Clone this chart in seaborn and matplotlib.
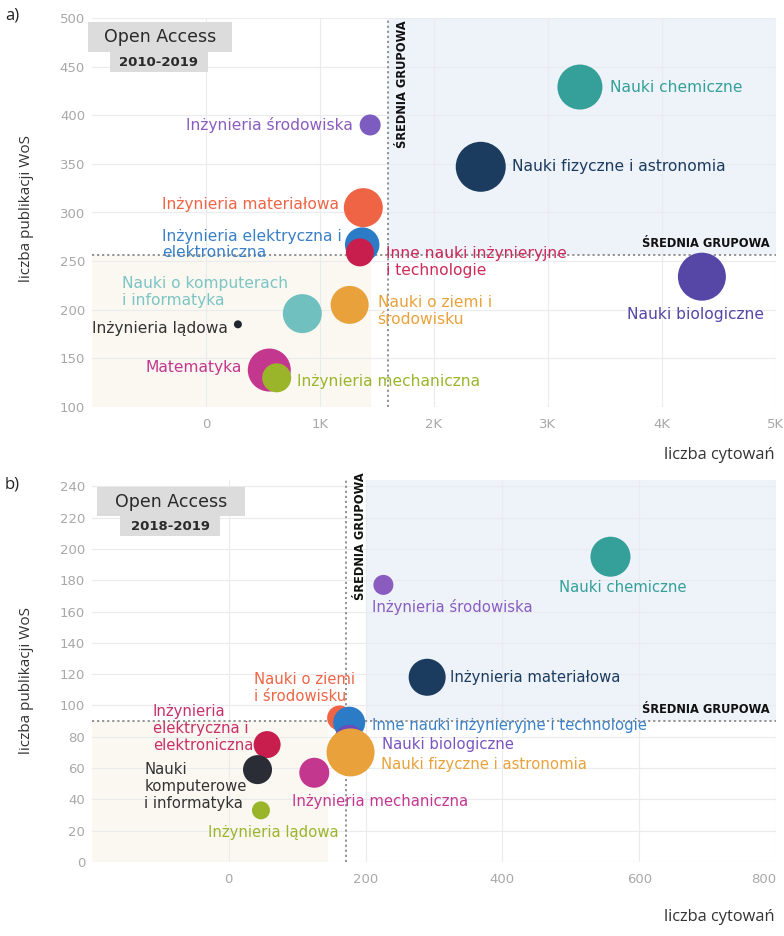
import pandas as pd
import matplotlib
matplotlib.use("Agg")
import matplotlib.pyplot as plt
from matplotlib.patches import Rectangle
from matplotlib.ticker import FuncFormatter
import seaborn as sns

# a) Open Access 2010-2019
dziedziny_a = [
    "Inżynieria środowiska",
    "Nauki chemiczne",
    "Nauki fizyczne i astronomia",
    "Inżynieria materiałowa",
    "Inżynieria elektryczna i elektroniczna",
    "Inne nauki inżynieryjne i technologie",
    "Nauki o komputerach i informatyka",
    "Nauki o ziemi i środowisku",
    "Inżynieria lądowa",
    "Matematyka",
    "Inżynieria mechaniczna",
    "Nauki biologiczne",
]
cytowania_a = [1440, 3280, 2410, 1380, 1370, 1350, 845, 1260, 280, 555, 620, 4350]
publikacje_a = [390, 429, 347, 305, 267, 259, 196, 205, 185, 138, 130, 234]
wielkosc_a = [441, 2025, 2500, 1520, 1190, 784, 1521, 1444, 64, 1849, 841, 2304]
kolory_a = ["#7d5cbf", "#35a099", "#1b3b5f", "#ef6445", "#2b7bc7", "#c81e4e",
            "#6fc0bf", "#e9a23b", "#222630", "#c4378f", "#9bb52b", "#5647a7"]
srednia_a = (1600, 256)

# b) Open Access 2018-2019
dziedziny_b = [
    "Nauki chemiczne",
    "Inżynieria środowiska",
    "Inżynieria materiałowa",
    "Nauki o ziemi i środowisku",
    "Inne nauki inżynieryjne i technologie",
    "Nauki biologiczne",
    "Nauki fizyczne i astronomia",
    "Inżynieria elektryczna i elektroniczna",
    "Nauki komputerowe i informatyka",
    "Inżynieria mechaniczna",
    "Inżynieria lądowa",
]
cytowania_b = [558, 226, 290, 162, 176, 176, 178, 56, 42, 125, 47]
publikacje_b = [195, 177, 118, 92, 89, 78, 70, 75, 59, 57, 33]
wielkosc_b = [1600, 400, 1369, 625, 1024, 900, 2304, 729, 841, 900, 324]
kolory_b = ["#35a099", "#8a5cc0", "#1b3b5f", "#ef6445", "#2b7bc7", "#6a4cb8",
            "#e9a23b", "#c81e4e", "#2a2d36", "#c4378f", "#9bb52b"]
srednia_b = (172, 90)

# label placement: text, offset in px (dx, dy up), ha, colour
etykiety_a = {
    "Inżynieria środowiska": ("Inżynieria środowiska", (-17, 0), "right", "#8a5cc0"),
    "Nauki chemiczne": ("Nauki chemiczne", (30, 0), "left", "#35a099"),
    "Nauki fizyczne i astronomia": ("Nauki fizyczne i astronomia", (31, 0), "left", "#1b3b5f"),
    "Inżynieria materiałowa": ("Inżynieria materiałowa", (-24, 3), "right", "#ef6445"),
    "Inżynieria elektryczna i elektroniczna": ("Inżynieria elektryczna i\nelektroniczna", (-20, 0), "right", "#3a80c8"),
    "Inne nauki inżynieryjne i technologie": ("Inne nauki inżynieryjne\ni technologie", (26, -10), "left", "#cc2a58"),
    "Nauki o komputerach i informatyka": ("Nauki o komputerach\ni informatyka", (-14, 22), "right", "#7cc5c4"),
    "Nauki o ziemi i środowisku": ("Nauki o ziemi i\nśrodowisku", (28, -6), "left", "#e9a23b"),
    "Inżynieria lądowa": ("Inżynieria lądowa", (-10, -4), "right", "#333333"),
    "Matematyka": ("Matematyka", (-27, 3), "right", "#c4378f"),
    "Inżynieria mechaniczna": ("Inżynieria mechaniczna", (20, -4), "left", "#9bb52b"),
    "Nauki biologiczne": ("Nauki biologiczne", (-6, -38), "center", "#5647a7"),
}
etykiety_b = {
    "Nauki chemiczne": ("Nauki chemiczne", (12, -31), "center", "#35a099"),
    "Inżynieria środowiska": ("Inżynieria środowiska", (-11, -22), "left", "#8a5cc0"),
    "Inżynieria materiałowa": ("Inżynieria materiałowa", (23, 0), "left", "#1b3b5f"),
    "Nauki o ziemi i środowisku": ("Nauki o ziemi\ni środowisku", (15, 30), "right", "#ef6445"),
    "Inne nauki inżynieryjne i technologie": ("Inne nauki inżynieryjne i technologie", (23, -3), "left", "#3a80c8"),
    "Nauki biologiczne": ("Nauki biologiczne", (33, -5), "left", "#7a55c0"),
    "Nauki fizyczne i astronomia": ("Nauki fizyczne i astronomia", (30, -12), "left", "#e9a23b"),
    "Inżynieria elektryczna i elektroniczna": ("Inżynieria\nelektryczna i\nelektroniczna", (-14, 16), "right", "#c8306a"),
    "Nauki komputerowe i informatyka": ("Nauki\nkomputerowe\ni informatyka", (-11, -17), "right", "#333333"),
    "Inżynieria mechaniczna": ("Inżynieria mechaniczna", (-22, -29), "left", "#c4378f"),
    "Inżynieria lądowa": ("Inżynieria lądowa", (12, -22), "center", "#9bb52b"),
}

W, H = 784, 936
PX = 72 / 100  # px -> pt


def fig_rect(x0, y0, x1, y1):
    return [x0 / W, 1 - y1 / H, (x1 - x0) / W, (y1 - y0) / H]


def draw_panel(ax, names, xs, ys, sizes, colors, mean, labels, xlim, ylim,
               xticks, yticks, blue_box, beige_box, fs, vshift):
    df = pd.DataFrame({"dziedzina": names, "cytowania": xs,
                       "publikacje": ys, "wielkosc": sizes})
    ax.set_xlim(*xlim)
    ax.set_ylim(*ylim)
    ax.set_axisbelow(True)
    ax.add_patch(Rectangle((blue_box[0], blue_box[2]), blue_box[1] - blue_box[0],
                           blue_box[3] - blue_box[2], color="#edf3f9", lw=0, zorder=0))
    ax.add_patch(Rectangle((beige_box[0], beige_box[2]), beige_box[1] - beige_box[0],
                           beige_box[3] - beige_box[2], color="#faf8f1", lw=0, zorder=0))
    ax.grid(True, color="#e9ebee", lw=0.8)
    ax.axvline(mean[0], color="#8a8a8a", ls=(0, (1.2, 1.6)), lw=1.3, zorder=1)
    ax.axhline(mean[1], color="#8a8a8a", ls=(0, (1.2, 1.6)), lw=1.3, zorder=1)

    sns.scatterplot(data=df, x="cytowania", y="publikacje", hue="dziedzina",
                    palette=dict(zip(names, colors)), size="wielkosc",
                    sizes=(0, 2500 * PX * PX), size_norm=(0, 2500),
                    legend=False, linewidth=0, alpha=1, ax=ax, zorder=3)

    for n, x, y in zip(names, xs, ys):
        txt, (dx, dy), ha, col = labels[n]
        ax.annotate(txt, (x, y), xytext=(dx * PX, dy * PX), textcoords="offset points",
                    ha=ha, va="center", color=col, fontsize=fs,
                    multialignment="left", linespacing=1.15, zorder=4)

    ax.annotate("ŚREDNIA GRUPOWA", (mean[0], ylim[1]), xytext=(14 * PX, vshift * PX),
                textcoords="offset points", rotation=90, ha="center", va="top",
                fontsize=8.3, fontweight="bold", color="#111111", zorder=4,
                annotation_clip=False)
    ax.annotate("ŚREDNIA GRUPOWA", (xlim[1], mean[1]), xytext=(-6 * PX, 12 * PX),
                textcoords="offset points", ha="right", va="center",
                fontsize=8.3, fontweight="bold", color="#111111", zorder=4)

    ax.set_xticks(xticks)
    ax.set_yticks(yticks)
    ax.tick_params(length=0, labelsize=9.5, labelcolor="#a8a8a8")
    ax.tick_params(axis="x", pad=8)
    ax.tick_params(axis="y", pad=5)
    sns.despine(ax=ax, left=True, bottom=True)
    ax.set_xlabel("")
    ax.set_ylabel("")


sns.set_theme(style="white")
plt.rcParams["font.family"] = ["DejaVu Sans"]

fig = plt.figure(figsize=(W / 100, H / 100), dpi=100)
fig.patch.set_facecolor("white")

ax_a = fig.add_axes(fig_rect(92, 18, 776, 407))
draw_panel(ax_a, dziedziny_a, cytowania_a, publikacje_a, wielkosc_a, kolory_a,
           srednia_a, etykiety_a, (-1000, 5000), (100, 500),
           [0, 1000, 2000, 3000, 4000, 5000], list(range(100, 501, 50)),
           (srednia_a[0], 5000, srednia_a[1], 500), (-1000, 1450, 100, srednia_a[1]),
           11.2, -2)
ax_a.xaxis.set_major_formatter(FuncFormatter(lambda v, p: "0" if v == 0 else f"{int(v / 1000)}K"))

ax_b = fig.add_axes(fig_rect(92, 480, 776, 862))
draw_panel(ax_b, dziedziny_b, cytowania_b, publikacje_b, wielkosc_b, kolory_b,
           srednia_b, etykiety_b, (-200, 800), (0, 244),
           [0, 200, 400, 600, 800], list(range(0, 241, 20)),
           (200, 800, srednia_b[1], 244), (-200, 145, 0, srednia_b[1]),
           10.7, 8)

# the "800" tick sits on the figure edge, keep it inside
fig.canvas.draw()
ax_b.xaxis.get_major_ticks()[-1].label1.set_horizontalalignment("right")

# Open Access boxes
for bx, sx, years in [((88, 22, 232, 52), (110, 52, 208, 72), "2010-2019"),
                      ((97, 487, 245, 516), (120, 516, 220, 536), "2018-2019")]:
    r = fig_rect(*bx)
    fig.patches.append(Rectangle((r[0], r[1]), r[2], r[3], transform=fig.transFigure,
                                 color="#dcdcdc", lw=0, zorder=5))
    fig.text(r[0] + r[2] / 2, r[1] + r[3] / 2, "Open Access", ha="center", va="center",
             fontsize=12.5, color="#2a2a2a", zorder=6)
    r2 = fig_rect(*sx)
    fig.patches.append(Rectangle((r2[0], r2[1]), r2[2], r2[3], transform=fig.transFigure,
                                 color="#dcdcdc", lw=0, zorder=5))
    fig.text(r2[0] + r2[2] / 2, r2[1] + r2[3] / 2, years, ha="center", va="center",
             fontsize=9.5, fontweight="bold", color="#2a2a2a", zorder=6)

lab_font = ["Open Sans", "DejaVu Sans"]
fig.text(5 / W, 1 - 15 / H, "a)", fontsize=12, family=lab_font, color="#222222", va="center")
fig.text(5 / W, 1 - 484 / H, "b)", fontsize=12, family=lab_font, color="#222222", va="center")
fig.text(27 / W, 1 - 209 / H, "liczba publikacji WoS", rotation=90, ha="center", va="center",
         fontsize=11, family=lab_font, color="#333333")
fig.text(27 / W, 1 - 680 / H, "liczba publikacji WoS", rotation=90, ha="center", va="center",
         fontsize=11, family=lab_font, color="#333333")
fig.text(775 / W, 1 - 455 / H, "liczba cytowań", ha="right", va="center",
         fontsize=11.8, family=lab_font, color="#333333")
fig.text(775 / W, 1 - 917 / H, "liczba cytowań", ha="right", va="center",
         fontsize=11.8, family=lab_font, color="#333333")

fig.savefig("out.png", dpi=100, facecolor="white")
